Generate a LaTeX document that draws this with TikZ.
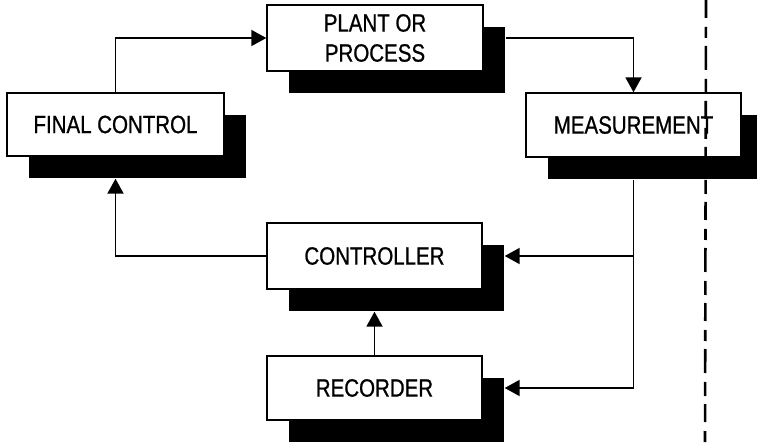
\documentclass[tikz,border=0pt]{standalone}
\usepackage{fontspec}
\setmainfont{Liberation Sans}[FakeStretch=0.82, FakeBold=0.8]
\usetikzlibrary{arrows.meta,shadows}
\begin{document}
\begin{tikzpicture}[x=1pt,y=-1pt,
  box/.style={draw=black, line width=1.4pt, fill=white, rectangle, inner sep=0pt,
    align=center, font=\fontsize{25}{30}\selectfont,
    drop shadow={shadow xshift=22pt, shadow yshift=-22pt, opacity=1, fill=black}},
  wire/.style={line width=1.9pt},
  arr/.style={wire, -{Triangle[length=15pt,width=16pt]}},
  cut/.style={line width=2.6pt, dash pattern=on 18pt off 9pt on 11pt off 8pt on 24pt off 9pt on 14pt off 8pt}]
\useasboundingbox (0,0) rectangle (757,446);
\node[box, minimum width=217pt, minimum height=63pt] (fc) at (115.5,124.5) {FINAL CONTROL};
\node[box, minimum width=216pt, minimum height=66pt] (plant) at (375,38) {PLANT OR\\PROCESS};
\node[box, minimum width=215pt, minimum height=64pt] (meas) at (633.5,125) {MEASUREMENT};
\node[box, minimum width=215pt, minimum height=66pt] (ctrl) at (374.5,256) {CONTROLLER};
\node[box, minimum width=215pt, minimum height=64pt] (rec) at (374.5,388) {RECORDER};
\coordinate (ms) at ([yshift=-22pt]meas.south);
\coordinate (br) at (ms |- ctrl.east);
\draw[arr] (fc.north) |- (plant.west);
\draw[arr] ([xshift=22pt]plant.east) -| (meas.north);
\draw[arr] (ms) |- ([xshift=22pt]rec.east);
\draw[arr] (br) -- ([xshift=22pt]ctrl.east);
\draw[arr] (rec.north) -- ([yshift=-22pt]ctrl.south);
\draw[arr] (ctrl.west) -| ([yshift=-22pt]fc.south);
\coordinate (ct) at (706,0);
\coordinate (cb) at (705,446);
\draw[cut] (ct) -- (cb);
\end{tikzpicture}
\end{document}
